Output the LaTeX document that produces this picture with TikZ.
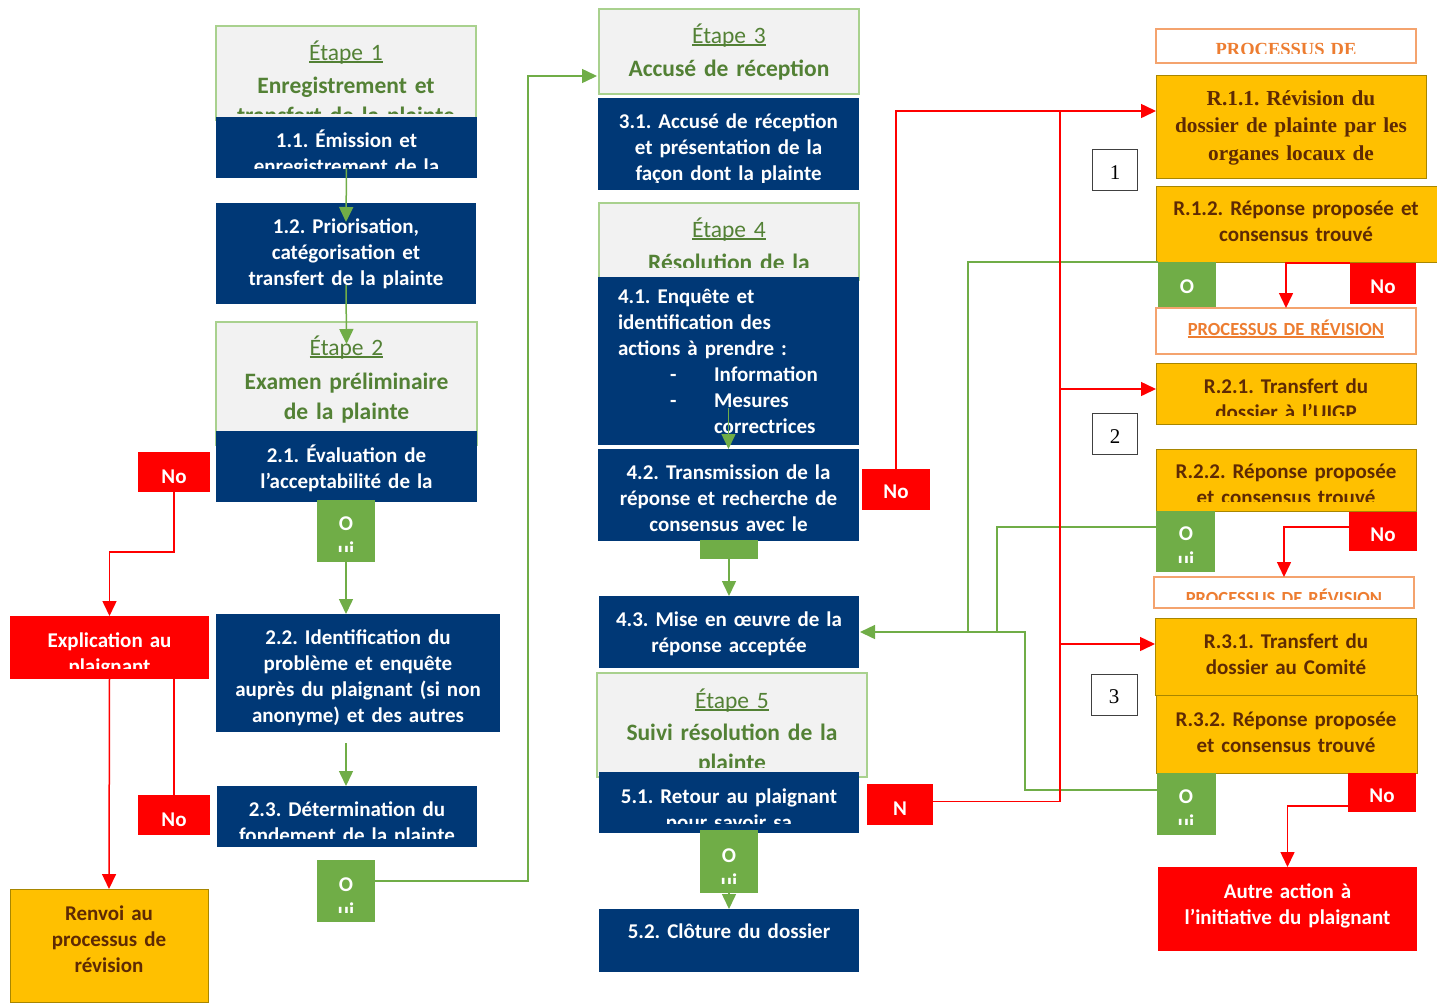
\documentclass[tikz,border=0pt]{standalone}
\usepackage{fontspec}
\setmainfont{Carlito}
\newfontfamily\serifb{Liberation Serif}
\usetikzlibrary{arrows.meta}
\frenchspacing
\definecolor{dblue}{HTML}{003876}
\definecolor{lgreen}{HTML}{70AD47}
\definecolor{hgreen}{HTML}{538135}
\definecolor{hborder}{HTML}{A9D18E}
\definecolor{hfill}{HTML}{F2F2F2}
\definecolor{oyellow}{HTML}{FFC000}
\definecolor{oborder}{HTML}{A88600}
\definecolor{obrown}{HTML}{5E2A04}
\definecolor{porange}{HTML}{ED7D31}
\definecolor{pborder}{HTML}{F4A36E}
\definecolor{rred}{HTML}{FF0000}
\newcommand\bx[6]{\node[#2, minimum width={(#5)-(#3)}, minimum height={(#6)-(#4)}] (#1) at ({((#3)+(#5))/2},{((#4)+(#6))/2}) {};}
\newcommand\tx[6]{\begin{scope}\clip (0,0) rectangle (1437,#5);\node[#2, anchor=base] (#1) at (#3,#4) {#6};\end{scope}}
\newcommand\undl[1]{\setbox0=\hbox{#1}\rlap{\rule[-2.5pt]{\wd0}{1.2pt}}\box0}
\tikzset{
 bluebox/.style={fill=dblue},
 hdr/.style={fill=hfill, draw=hborder, line width=1.2pt},
 grbox/.style={fill=lgreen},
 redbox/.style={fill=rred},
 orbox/.style={fill=oyellow, draw=oborder, line width=1pt},
 prbox/.style={fill=white, draw=pborder, line width=1.2pt},
 numbox/.style={fill=white, draw=black!75, line width=0.9pt},
 wtxt/.style={text=white, font=\bfseries\fontsize{21}{26}\selectfont, align=center, text width=300pt},
 wleft/.style={text=white, font=\bfseries\fontsize{21}{26}\selectfont, align=left, text width=235pt},
 htxt/.style={text=hgreen, font=\fontsize{23.5}{30}\selectfont, align=center, text width=300pt},
 otxt/.style={text=obrown, font=\bfseries\fontsize{21}{26}\selectfont, align=center, text width=300pt},
 stxt/.style={text=obrown, font=\serifb\bfseries\fontsize{21.3}{27.5}\selectfont, align=center, text width=300pt},
 ptxt/.style={text=porange, font=\bfseries\fontsize{18.5}{22}\selectfont, align=center, text width=300pt},
 pstxt/.style={text=porange, font=\serifb\bfseries\fontsize{18.5}{22}\selectfont, align=center, text width=300pt},
 ntxt/.style={text=black, font=\serifb\fontsize{21}{24}\selectfont, align=center, text width=40pt},
 garrow/.style={draw=lgreen, line width=1.5pt, -{Triangle[length=15pt,width=14pt]}},
 gline/.style={draw=lgreen, line width=1.5pt},
 rarrow/.style={draw=rred, line width=1.5pt, -{Triangle[length=15pt,width=14pt]}},
 rline/.style={draw=rred, line width=1.5pt},
}
\begin{document}
\begin{tikzpicture}[x=1pt, y=-1pt, every node/.style={inner sep=0pt, outer sep=0pt}]
\useasboundingbox (0,0) rectangle (1437,1005);
% ---------- boxes, left column
\bx{e1}{hdr}{216}{26}{476}{120}
\bx{b11}{bluebox}{216}{117}{477}{178}
\bx{b12}{bluebox}{216}{203}{476}{304}
\bx{e2}{hdr}{216}{322}{477}{445}
\bx{b21}{bluebox}{216}{431}{477}{502}
\bx{no1}{redbox}{138}{452}{210}{492}
\bx{oui1}{grbox}{317}{500}{375}{562}
\bx{expl}{redbox}{10}{616}{209}{679}
\bx{b22}{bluebox}{216}{614}{500}{732}
\bx{b23}{bluebox}{217}{786}{477}{847}
\bx{no2}{redbox}{138}{795}{210}{835}
\bx{oui2}{grbox}{317}{860}{375}{922}
\bx{renvoi}{orbox}{10}{889}{208}{1002}
% ---------- middle column
\bx{e3}{hdr}{599}{9}{859}{94}
\bx{b31}{bluebox}{598}{98}{859}{190}
\bx{e4}{hdr}{599}{203}{859}{280}
\bx{b41}{bluebox}{598}{277}{859}{445}
\bx{b42}{bluebox}{598}{449}{859}{541}
\bx{gsm}{grbox}{700}{540}{758}{559}
\bx{nom}{redbox}{862}{469}{930}{510}
\bx{b43}{bluebox}{599}{596}{859}{668}
\bx{e5}{hdr}{597}{673}{867}{777}
\bx{b51}{bluebox}{599}{772}{859}{833}
\bx{nbox}{redbox}{867}{784}{933}{825}
\bx{oui3}{grbox}{700}{830}{758}{893}
\bx{b52}{bluebox}{599}{909}{859}{972}
% ---------- right column
\bx{p1}{prbox}{1156}{29}{1416}{63}
\bx{r11}{orbox}{1156}{75}{1426}{178}
\bx{n1}{numbox}{1092}{149}{1137}{190}
\bx{r12}{orbox}{1156}{186}{1437}{262}
\bx{ouir1}{grbox}{1158}{262}{1216}{308}
\bx{nor1}{redbox}{1350}{263}{1416}{304}
\bx{p2}{prbox}{1156}{308}{1416}{354}
\bx{r21}{orbox}{1156}{363}{1416}{424}
\bx{n2}{numbox}{1092}{413}{1137}{454}
\bx{r22}{orbox}{1156}{449}{1416}{511}
\bx{ouir2}{grbox}{1156}{511}{1215}{572}
\bx{nor2}{redbox}{1349}{512}{1417}{551}
\bx{p3}{prbox}{1154}{577}{1414}{608}
\bx{r31}{orbox}{1155}{618}{1416}{695}
\bx{r32}{orbox}{1156}{695}{1417}{773}
\bx{n3}{numbox}{1091}{674}{1137}{715}
\bx{ouir3}{grbox}{1157}{773}{1216}{835}
\bx{nor3}{redbox}{1348}{773}{1416}{812}
\bx{autre}{redbox}{1158}{867}{1417}{951}
% ---------- texts, left column
\tx{t1}{htxt}{346}{60}{113}{\undl{Étape 1}\\[3pt]\bfseries Enregistrement et\\transfert de la plainte}
\tx{t11}{wtxt}{346.5}{147}{168}{1.1. Émission et\\enregistrement de la}
\tx{t12}{wtxt}{346}{233}{1005}{1.2. Priorisation,\\catégorisation et\\transfert de la plainte}
\tx{t2}{htxt}{346.5}{355}{1005}{\undl{Étape 2}\\[4pt]\bfseries Examen préliminaire\\de la plainte}
\tx{t21}{wtxt}{346.5}{462}{1005}{2.1. Évaluation de\\l’acceptabilité de la}
\tx{tno1}{wtxt}{174}{483}{1005}{No}
\tx{to1}{wtxt}{346}{530}{551}{O\\ui}
\tx{tex}{wtxt}{109.5}{647}{668}{Explication au\\plaignant}
\tx{t22}{wtxt}{358}{644}{727}{2.2. Identification du\\problème et enquête\\auprès du plaignant (si non\\anonyme) et des autres}
\tx{t23}{wtxt}{347}{816}{838}{2.3. Détermination du\\fondement de la plainte}
\tx{tno2}{wtxt}{174}{826}{1005}{No}
\tx{to2}{wtxt}{346}{891}{912}{O\\ui}
\tx{tre}{otxt}{109}{920}{1005}{Renvoi au\\processus de\\révision}
% ---------- texts, middle column
\tx{t3}{htxt}{729}{43}{1005}{\undl{Étape 3}\\[3pt]\bfseries Accusé de réception}
\tx{t31}{wtxt}{728.5}{128}{182}{3.1. Accusé de réception\\et présentation de la\\façon dont la plainte}
\tx{t4}{htxt}{729}{237}{267}{\undl{Étape 4}\\[3pt]\bfseries Résolution de la}
\node[wleft, anchor=base west] (t41) at (618,303) {4.1. Enquête et\\identification des\\actions à prendre :\\\hspace*{52pt}\makebox[44pt][l]{-}Information\\\hspace*{52pt}\makebox[44pt][l]{-}Mesures\\\hspace*{96pt}correctrices};
\tx{t42}{wtxt}{728.5}{479}{1005}{4.2. Transmission de la\\réponse et recherche de\\consensus avec le}
\tx{tnom}{wtxt}{896}{498}{1005}{No}
\tx{t43}{wtxt}{729}{626}{1005}{4.3. Mise en œuvre de la\\réponse acceptée}
\tx{t5}{htxt}{732}{708}{767}{\undl{Étape 5}\\[2pt]\bfseries Suivi résolution de la\\plainte}
\tx{t51}{wtxt}{729}{803}{823}{5.1. Retour au plaignant\\pour savoir sa}
\tx{tn}{wtxt}{900}{815}{1005}{N}
\tx{to3}{wtxt}{729}{862}{883}{O\\ui}
\tx{t52}{wtxt}{729}{938}{1005}{5.2. Clôture du dossier}
% ---------- texts, right column
\tx{tp1}{pstxt}{1286}{55}{53}{PROCESSUS DE}
\tx{tr11}{stxt}{1291}{105}{1005}{R.1.1. Révision du\\dossier de plainte par les\\organes locaux de}
\tx{tb1}{ntxt}{1115}{179}{1005}{1}
\tx{tr12}{otxt}{1296}{215}{1005}{R.1.2. Réponse proposée et\\consensus trouvé}
\tx{tor1}{wtxt}{1187}{293}{1005}{O}
\tx{tnr1}{wtxt}{1383}{293}{1005}{No}
\tx{tp2}{ptxt}{1286}{335}{1005}{\undl{PROCESSUS DE RÉVISION}}
\tx{tr21}{otxt}{1286}{393}{415}{R.2.1. Transfert du\\dossier à l’UIGP}
\tx{tb2}{ntxt}{1115}{443}{1005}{2}
\tx{tr22}{otxt}{1286}{478}{501}{R.2.2. Réponse proposée\\et consensus trouvé}
\tx{tor2}{wtxt}{1186}{540}{562}{O\\ui}
\tx{tnr2}{wtxt}{1383}{541}{1005}{No}
\tx{tp3}{ptxt}{1284}{604}{599}{\undl{PROCESSUS DE RÉVISION}}
\tx{tr31}{otxt}{1286}{648}{1005}{R.3.1. Transfert du\\dossier au Comité}
\tx{tb3}{ntxt}{1114}{703}{1005}{3}
\tx{tr32}{otxt}{1286}{726}{1005}{R.3.2. Réponse proposée\\et consensus trouvé}
\tx{tor3}{wtxt}{1186}{803}{824}{O\\ui}
\tx{tnr3}{wtxt}{1382}{802}{1005}{No}
\tx{tau}{wtxt}{1287.5}{898}{1005}{Autre action à\\l’initiative du plaignant}
% ---------- green connectors
\draw[garrow] ([yshift=10pt]b11.south) -- ([yshift=-19pt]b12.north);
\draw[garrow] ([yshift=19pt]b12.south) -- ([yshift=-22pt]e2.north);
\draw[garrow] (oui1.south) -- (oui1.south |- b22.north);
\coordinate (c22) at ([yshift=-11pt]b22.south);
\draw[garrow] (oui1.south |- c22) -- (oui1.south |- b23.north);
\draw[garrow] ([yshift=10pt]oui2.east) -| ([xshift=-71pt,yshift=-24.5pt]e3.west) -- ([xshift=-2pt,yshift=-24.5pt]e3.west);
\draw[garrow] ([yshift=37pt]b41.south) -- (b42.north);
\draw[garrow] (gsm.south) -- (b43.north);
\draw[garrow] (oui3.south) -- (b52.north);
\coordinate (g1) at (968,632);
\coordinate (g2) at (997,632);
\coordinate (g3) at (1025,632);
\draw[garrow] (ouir1.north west) -| (g1) -- ([xshift=1pt]b43.east);
\draw[gline] ([yshift=-16pt]ouir2.north west) -| (g2);
\draw[gline] ([yshift=-17pt]ouir3.north west) -| (g3) -- (g1);
% ---------- red connectors
\draw[rarrow] (no1.south) |- ([yshift=64pt]expl.north) -- (expl.north);
\draw[rarrow] (expl.south) -- (renvoi.north);
\draw[rline] (no2.north) -- (no2.north |- expl.south);
\coordinate (rv) at (1060,111);
\coordinate (a11) at ([yshift=15.5pt]r11.west);
\coordinate (a21) at ([yshift=4.5pt]r21.west);
\coordinate (a31) at ([yshift=12.5pt]r31.west);
\draw[rarrow] (nom.north) |- (a11);
\draw[rline] ([yshift=3pt]nbox.east) -| (rv);
\draw[rarrow] (rv |- a21) -- (a21);
\draw[rarrow] (rv |- a31) -- (a31);
\draw[rarrow] (nor1.north west) -| (p2.north);
\draw[rarrow] ([yshift=-15pt]nor2.north west) -| (p3.north);
\draw[rarrow] ([yshift=-33pt]nor3.north west) -| (autre.north);
\end{tikzpicture}
\end{document}
